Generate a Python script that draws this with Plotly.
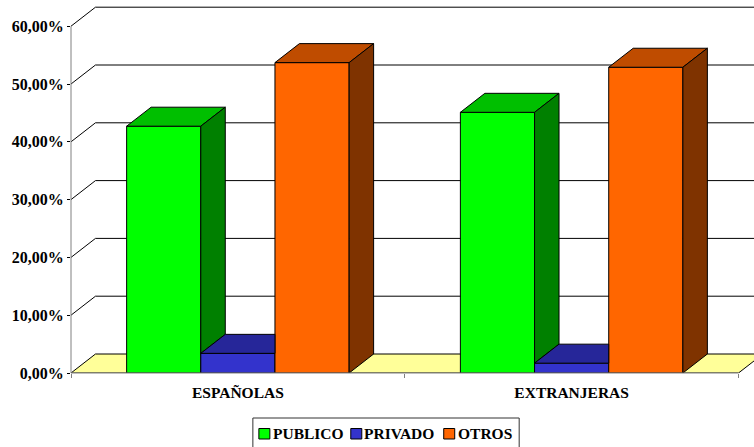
import plotly.graph_objects as go

categories = ["ESPAÑOLAS", "EXTRANJERAS"]
publico = [42.7, 45.1]
privado = [3.4, 1.7]
otros = [53.7, 52.9]
y_ticks = [0, 10, 20, 30, 40, 50, 60]
y_labels = ["0,00%", "10,00%", "20,00%", "30,00%", "40,00%", "50,00%", "60,00%"]

FONT = "Liberation Serif"
BARGAP = 1 / 3
W = (1 - BARGAP) / 3
DX = 24.5 / 334
DY = 19 / 5.78
XL, XR = -0.5, 1.5
XMAX = XL + 683.5 / 334
YMAX = 369 / 5.78

FRONT = ["#00FF00", "#3333CC", "#FF6600"]
TOP = ["#00BF00", "#262699", "#BF4C00"]
SIDE = ["#008000", "#1A1A80", "#7F3300"]
LINE = dict(color="#000000", width=1)
SERIES = ["PUBLICO", "PRIVADO", "OTROS"]

fig = go.Figure()
xs = list(range(len(categories)))

for name, vals, col in zip(SERIES, [publico, privado, otros], FRONT):
    fig.add_bar(name=name, x=xs, y=vals, marker=dict(color=col, line=LINE), hoverinfo="skip", showlegend=False)


def face(px, py, col):
    fig.add_scatter(x=px + px[:1], y=py + py[:1], mode="lines", fill="toself", fillcolor=col,
                    line=LINE, showlegend=False, hoverinfo="skip")


for c in xs:
    left = c - 1.5 * W
    a, b, d = publico[c], privado[c], otros[c]
    face([left, left + W, left + W + DX, left + DX], [a, a, a + DY, a + DY], TOP[0])
    face([left + W, left + W + DX, left + W + DX, left + W], [a, a + DY, b + DY, b], SIDE[0])
    face([left + W, left + 2 * W, left + 2 * W, left + W + DX], [b, b, b + DY, b + DY], TOP[1])
    face([left + 2 * W, left + 3 * W, left + 3 * W + DX, left + 2 * W + DX], [d, d, d + DY, d + DY], TOP[2])
    face([left + 3 * W, left + 3 * W + DX, left + 3 * W + DX, left + 3 * W], [d, d + DY, DY, 0], SIDE[2])

shapes = []
shapes.append(dict(type="path", layer="below", xref="x", yref="y",
                   path=f"M{XL},0 L{XL + DX},{DY} L{XR + DX},{DY} L{XR},0 Z",
                   fillcolor="#FFFF99", line=LINE))
for v in y_ticks[1:]:
    shapes.append(dict(type="path", layer="below", xref="x", yref="y",
                       path=f"M{XL},{v} L{XL + DX},{v + DY} L{XR + DX},{v + DY}", line=LINE))
shapes.append(dict(type="line", layer="above", xref="x", yref="paper", x0=XL, x1=XR, y0=0, y1=0,
                   line=dict(color="#808080", width=1)))
shapes.append(dict(type="line", layer="above", xref="paper", yref="y", x0=0, x1=0, y0=0, y1=60,
                   line=dict(color="#808080", width=1)))

# legend drawn in page pixels
WIDTH, HEIGHT = 754, 447
L, T = 70.5, 4
PW, PH = WIDTH - L, HEIGHT - T - 74


def px(x):
    return (x - L) / PW


def py(y):
    return 1 - (y - T) / PH


LEG_BOX = (252.5, 418, 519, 450)
LEG_SWATCH_X = [258.5, 350.5, 443.5]
LEG_TEXT_X = [271, 362, 456]
shapes.append(dict(type="rect", xref="paper", yref="paper", x0=px(LEG_BOX[0]), x1=px(LEG_BOX[2]),
                   y0=py(LEG_BOX[3]), y1=py(LEG_BOX[1]), line=dict(color="#333333", width=1), fillcolor="white"))
annotations = []
for name, col, sx, tx in zip(SERIES, FRONT, LEG_SWATCH_X, LEG_TEXT_X):
    shapes.append(dict(type="rect", xref="paper", yref="paper", x0=px(sx), x1=px(sx + 11),
                       y0=py(439), y1=py(428.5), fillcolor=col, line=LINE))
    annotations.append(dict(xref="paper", yref="paper", x=px(tx), y=py(433), text=name, showarrow=False,
                            xanchor="left", yanchor="middle",
                            font=dict(family=FONT, size=15.5, weight="bold", color="#000000")))

fig.update_layout(
    width=WIDTH, height=HEIGHT, autosize=False,
    margin=dict(l=L, r=0, t=T, b=74),
    paper_bgcolor="white", plot_bgcolor="white",
    barmode="group", bargap=BARGAP, bargroupgap=0,
    shapes=shapes, annotations=annotations, showlegend=False,
    font=dict(family=FONT, color="#000000"),
    xaxis=dict(range=[XL, XMAX], tickmode="array", tickvals=xs, ticktext=categories, ticks="",
               showgrid=False, zeroline=False, showline=False,
               tickfont=dict(family=FONT, size=15.5, weight="bold", color="#000000"),
               ticklabelstandoff=8,
               minor=dict(tickmode="array", tickvals=[XL, 0.5, XR], ticks="outside", ticklen=4,
                          tickcolor="#808080", showgrid=False)),
    yaxis=dict(range=[0, YMAX], tickmode="array", tickvals=y_ticks, ticktext=y_labels,
               ticks="outside", ticklen=3, tickcolor="#000000", showgrid=False, zeroline=False,
               showline=False, tickfont=dict(family=FONT, size=16, weight="bold", color="#000000")),
)

fig.write_html("out.html", post_script="document.body.style.margin='0';", config={"displayModeBar": False})
